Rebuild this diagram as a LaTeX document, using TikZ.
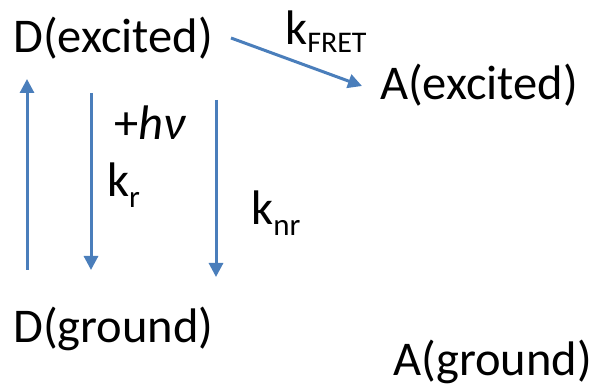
\documentclass[tikz,border=0pt]{standalone}
\usepackage{fontspec}
\setmainfont{Carlito}
\usetikzlibrary{arrows.meta}
\definecolor{arrowblue}{HTML}{4A7EBB}
\begin{document}
\begin{tikzpicture}[x=1pt,y=1pt,
  lbl/.style={anchor=base west,inner sep=0pt,font=\fontsize{48.5}{58}\selectfont},
  arr/.style={draw=arrowblue,line width=3pt,-{Triangle[length=14pt,width=14pt]}}]
\useasboundingbox (0,0) rectangle (594,390);
\node[lbl] (De) at (13,337) {D(excited)};
\node[lbl] (Ae) at (380,290) {A(excited)};
\node[lbl] (Dg) at (13,47) {D(ground)};
\node[lbl] (Ag) at (393,14) {A(ground)};
\node[lbl] (kf) at (285,345) {k\raisebox{-8pt}{\fontsize{30}{32}\selectfont FRET}};
\node[lbl] (hv) at (114,250) {+\textit{hν}};
\node[lbl] (kr) at (107,193) {k\raisebox{-11pt}{\fontsize{31}{32}\selectfont r}};
\node[lbl] (knr) at (251,165) {k\raisebox{-11pt}{\fontsize{31}{32}\selectfont nr}};
\coordinate (u1) at (27,120);
\coordinate (u2) at (27,311);
\coordinate (r1) at (91,297);
\coordinate (r2) at (91,120);
\coordinate (n1) at (216,290);
\coordinate (n2) at (216,113);
\coordinate (f1) at (231,352);
\coordinate (f2) at (362,304);
\draw[arr] (u1) -- (u2);
\draw[arr] (r1) -- (r2);
\draw[arr] (n1) -- (n2);
\draw[arr] (f1) -- (f2);
\end{tikzpicture}
\end{document}
